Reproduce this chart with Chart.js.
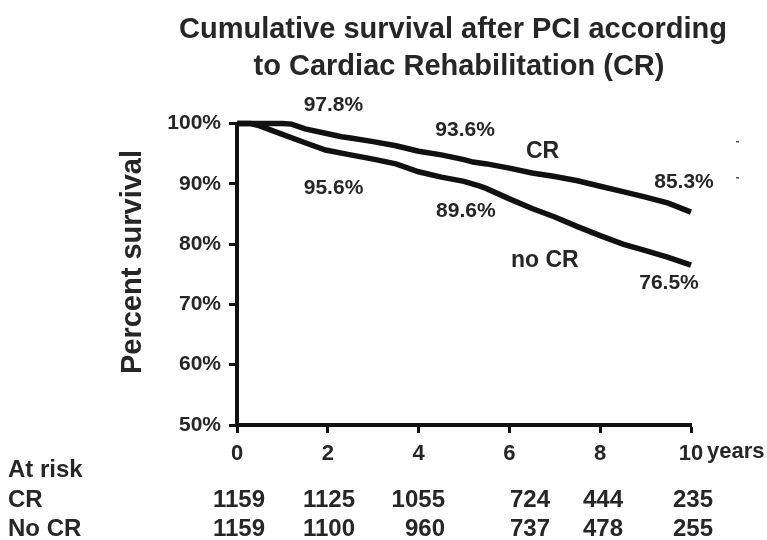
<!DOCTYPE html>
<html lang="en">
<head>
<meta charset="UTF-8">
<title>Cumulative survival after PCI</title>
<script src="https://cdn.jsdelivr.net/npm/chart.js"></script>
<style>
    body { margin: 0; background: #fff; }
</style>
</head>
<body>
<canvas id="survival-chart" width="767" height="540"></canvas>

<script>
    // follow-up (years) and cumulative survival (%)
    var crYears = [0, 0.5, 1.0, 1.2, 1.5, 2.0, 2.3, 2.5, 3.0, 3.5, 4.0, 4.5, 5.0, 5.2, 5.5, 6.0, 6.5, 7.0, 7.5, 8.0, 8.5, 9.0, 9.5, 10];
    var crSurvival = [100, 100, 100, 99.9, 99.1, 98.3, 97.8, 97.6, 97.0, 96.3, 95.4, 94.8, 94.0, 93.6, 93.3, 92.6, 91.8, 91.2, 90.5, 89.6, 88.7, 87.8, 86.8, 85.3];

    var noCrYears = [0, 0.3, 0.5, 1.0, 1.5, 1.95, 2.5, 3.0, 3.5, 4.0, 4.5, 5.0, 5.35, 5.5, 6.0, 6.5, 7.0, 7.5, 8.0, 8.5, 9.0, 9.5, 10];
    var noCrSurvival = [100, 100, 99.6, 98.2, 96.8, 95.6, 94.8, 94.1, 93.3, 92.0, 91.1, 90.4, 89.6, 89.2, 87.5, 85.9, 84.5, 82.9, 81.4, 80.0, 78.9, 77.8, 76.5];

    var xTicks = [0, 2, 4, 6, 8, 10];
    var yTicks = [50, 60, 70, 80, 90, 100];

    // patients at risk
    var riskLabels = ['CR', 'No CR'];
    var riskCR = [1159, 1125, 1055, 724, 444, 235];
    var riskNoCR = [1159, 1100, 960, 737, 478, 255];

    // survival figures printed next to the curves
    var crMarkYears = [2.3, 5.2, 10];
    var crMarkValues = [97.8, 93.6, 85.3];
    var noCrMarkYears = [1.95, 5.35, 10];
    var noCrMarkValues = [95.6, 89.6, 76.5];

    var ink = '#111';
    var textColor = '#262626';
    var family = '"Liberation Sans", Arial, Helvetica, sans-serif';

    function toPoints(xs, ys) {
        return xs.map(function (x, i) { return { x: x, y: ys[i] }; });
    }

    var extras = {
        id: 'extras',
        afterDraw: function (chart) {
            var ctx = chart.ctx;
            var xs = chart.scales.x;
            var ys = chart.scales.y;
            ctx.save();
            ctx.fillStyle = textColor;
            ctx.textBaseline = 'middle';
            ctx.textAlign = 'center';

            ctx.font = 'bold 29px ' + family;
            ctx.fillText('Cumulative survival after PCI according', 453, 30);
            ctx.fillText('to Cardiac Rehabilitation (CR)', 459, 67);

            ctx.save();
            ctx.translate(133, 262);
            ctx.rotate(-Math.PI / 2);
            ctx.fillText('Percent survival', 0, 0);
            ctx.restore();

            // value labels, offset from their point on the curve
            ctx.font = 'bold 21px ' + family;
            var crOff = [[-8, -32], [-8, -32], [-7, -30]];
            var noOff = [[8, 38], [-14, 25], [-22, 18]];
            crMarkYears.forEach(function (t, i) {
                ctx.fillText(crMarkValues[i].toFixed(1) + '%',
                    xs.getPixelForValue(t) + crOff[i][0], ys.getPixelForValue(crMarkValues[i]) + crOff[i][1]);
            });
            noCrMarkYears.forEach(function (t, i) {
                ctx.fillText(noCrMarkValues[i].toFixed(1) + '%',
                    xs.getPixelForValue(t) + noOff[i][0], ys.getPixelForValue(noCrMarkValues[i]) + noOff[i][1]);
            });

            ctx.font = 'bold 23px ' + family;
            ctx.fillText('CR', xs.getPixelForValue(6.73), ys.getPixelForValue(95.3));
            ctx.fillText('no CR', xs.getPixelForValue(6.78), ys.getPixelForValue(77.2));

            // stray dashes at the right
            ctx.fillStyle = '#555';
            ctx.fillRect(736, 141, 3, 1.5);
            ctx.fillRect(736, 177, 3, 1.5);
            ctx.fillStyle = textColor;

            ctx.textAlign = 'left';
            ctx.font = 'bold 22px ' + family;
            ctx.fillText('years', 707, 452);

            // at-risk table
            ctx.font = 'bold 24px ' + family;
            ctx.fillText('At risk', 8, 470);
            ctx.fillText(riskLabels[0], 8, 500);
            ctx.fillText(riskLabels[1], 8, 529);
            var colRight = [265, 355, 445, 550, 623, 713];
            ctx.textAlign = 'right';
            riskCR.forEach(function (n, i) { ctx.fillText(String(n), colRight[i], 500); });
            riskNoCR.forEach(function (n, i) { ctx.fillText(String(n), colRight[i], 529); });
            ctx.restore();
        }
    };

    var lineStyle = {
        borderColor: ink,
        borderWidth: 5.5,
        pointRadius: 0,
        tension: 0,
        fill: false,
        clip: false
    };

    var ctx = document.getElementById('survival-chart').getContext('2d');
    var chart = new Chart(ctx, {
        type: 'line',
        data: {
            datasets: [
                Object.assign({ label: 'CR', data: toPoints(crYears, crSurvival) }, lineStyle),
                Object.assign({ label: 'no CR', data: toPoints(noCrYears, noCrSurvival) }, lineStyle)
            ]
        },
        options: {
            responsive: false,
            animation: false,
            layout: { padding: { top: 123.5, right: 76, left: 0, bottom: 0 } },
            plugins: {
                legend: { display: false },
                tooltip: { enabled: false }
            },
            scales: {
                x: {
                    type: 'linear',
                    min: 0,
                    max: 10,
                    afterBuildTicks: function (s) { s.ticks = xTicks.map(function (v) { return { value: v }; }); },
                    afterFit: function (s) { s.height = 115; },
                    border: { color: ink, width: 4 },
                    grid: { drawOnChartArea: false, color: ink, tickColor: ink, tickLength: 8, tickWidth: 3 },
                    ticks: {
                        color: textColor,
                        padding: 8,
                        maxRotation: 0,
                        font: { size: 22, weight: 'bold', family: family }
                    }
                },
                y: {
                    min: 50,
                    max: 100,
                    afterBuildTicks: function (s) { s.ticks = yTicks.map(function (v) { return { value: v }; }); },
                    afterFit: function (s) { s.width = 237; },
                    border: { color: ink, width: 4 },
                    grid: { drawOnChartArea: false, color: ink, tickColor: ink, tickLength: 8, tickWidth: 3 },
                    ticks: {
                        color: textColor,
                        padding: 8,
                        font: { size: 21, weight: 'bold', family: family },
                        callback: function (v) { return v + '%'; }
                    }
                }
            }
        },
        plugins: [extras]
    });
</script>
</body>
</html>
